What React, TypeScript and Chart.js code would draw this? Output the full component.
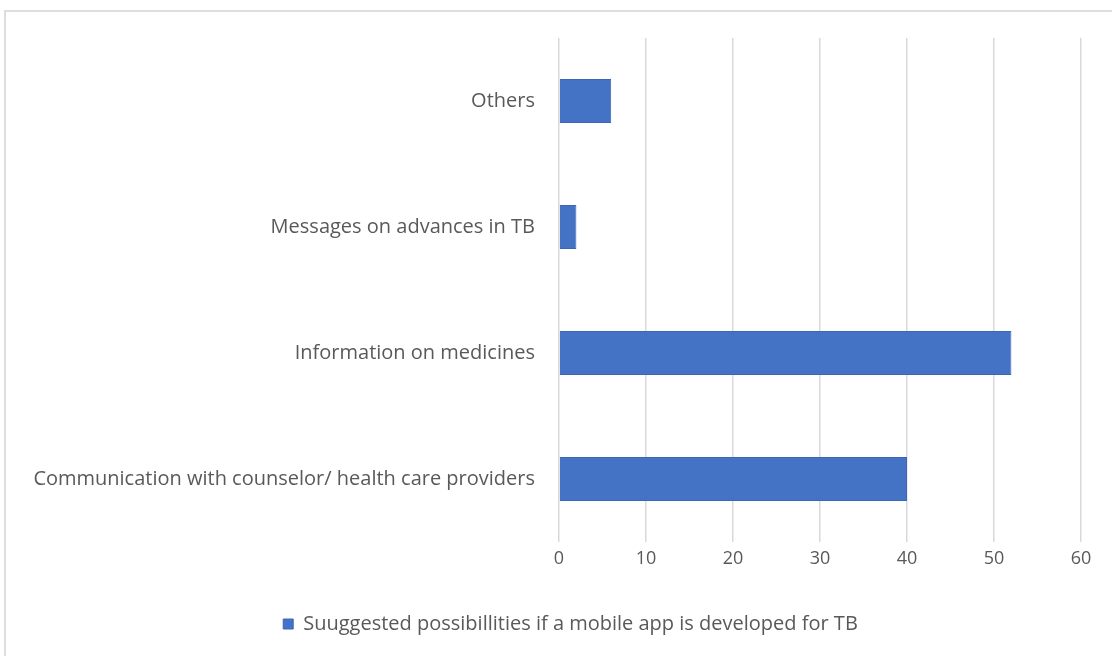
import React, { useEffect, useRef } from "react";
import { Chart, registerables } from "chart.js";

Chart.register(...registerables);

const categories: string[] = [
  "Others",
  "Messages on advances in TB",
  "Information on medicines",
  "Communication with counselor/ health care providers",
];
const seriesValues: number[] = [6, 2, 52, 40];
const seriesLabel = "Suuggested possibillities if a mobile app is developed for TB";
const xTickValues: number[] = [0, 10, 20, 30, 40, 50, 60];

const FONT = "'Open Sans', 'DejaVu Sans', sans-serif";
const TEXT = "#595959";

const legendShift = {
  id: "legendShift",
  afterLayout(chart: any) {
    if (chart.legend) {
      chart.legend.left += 30;
      chart.legend.right += 30;
    }
  },
};

export default function App() {
  const ref = useRef<HTMLCanvasElement | null>(null);

  useEffect(() => {
    if (!ref.current) return;
    const chart = new Chart(ref.current, {
      type: "bar",
      data: {
        labels: categories,
        datasets: [
          {
            label: seriesLabel,
            data: seriesValues,
            backgroundColor: "#4472C4",
            borderColor: "#3a66b8",
            borderWidth: 1,
            barPercentage: 0.35,
            categoryPercentage: 1,
          },
        ],
      },
      plugins: [legendShift],
      options: {
        indexAxis: "y",
        responsive: false,
        animation: false,
        layout: { padding: { top: 38, left: 0, right: 31, bottom: 12 } },
        plugins: {
          tooltip: { enabled: false },
          legend: {
            position: "bottom",
            labels: {
              boxWidth: 10,
              boxHeight: 10,
              color: TEXT,
              font: { family: FONT, size: 20 },
              padding: 14,
            },
          },
        },
        scales: {
          x: {
            min: 0,
            max: 60,
            afterBuildTicks: (s: any) => {
              s.ticks = xTickValues.map((v) => ({ value: v }));
            },
            grid: { color: "#d9d9d9", lineWidth: 1.5, drawTicks: false },
            border: { display: false },
            ticks: { color: TEXT, font: { family: FONT, size: 18 }, padding: 6 },
            afterFit: (s: any) => {
              s.height = 58;
            },
          },
          y: {
            grid: { display: false, drawTicks: false },
            border: { display: false },
            ticks: { color: TEXT, font: { family: FONT, size: 20 }, padding: 24 },
            afterFit: (s: any) => {
              s.width = 559;
            },
          },
        },
      },
    });
    return () => chart.destroy();
  }, []);

  return (
    <div style={{ position: "absolute", left: 0, top: 0, width: 1112, height: 656, overflow: "hidden", background: "#fff" }}>
      <div
        style={{
          position: "absolute",
          left: 4,
          top: 10,
          width: 1200,
          height: 800,
          border: "2px solid #dedede",
        }}
      />
      <canvas ref={ref} width={1112} height={656} style={{ position: "absolute", left: 0, top: 0 }} />
    </div>
  );
}
